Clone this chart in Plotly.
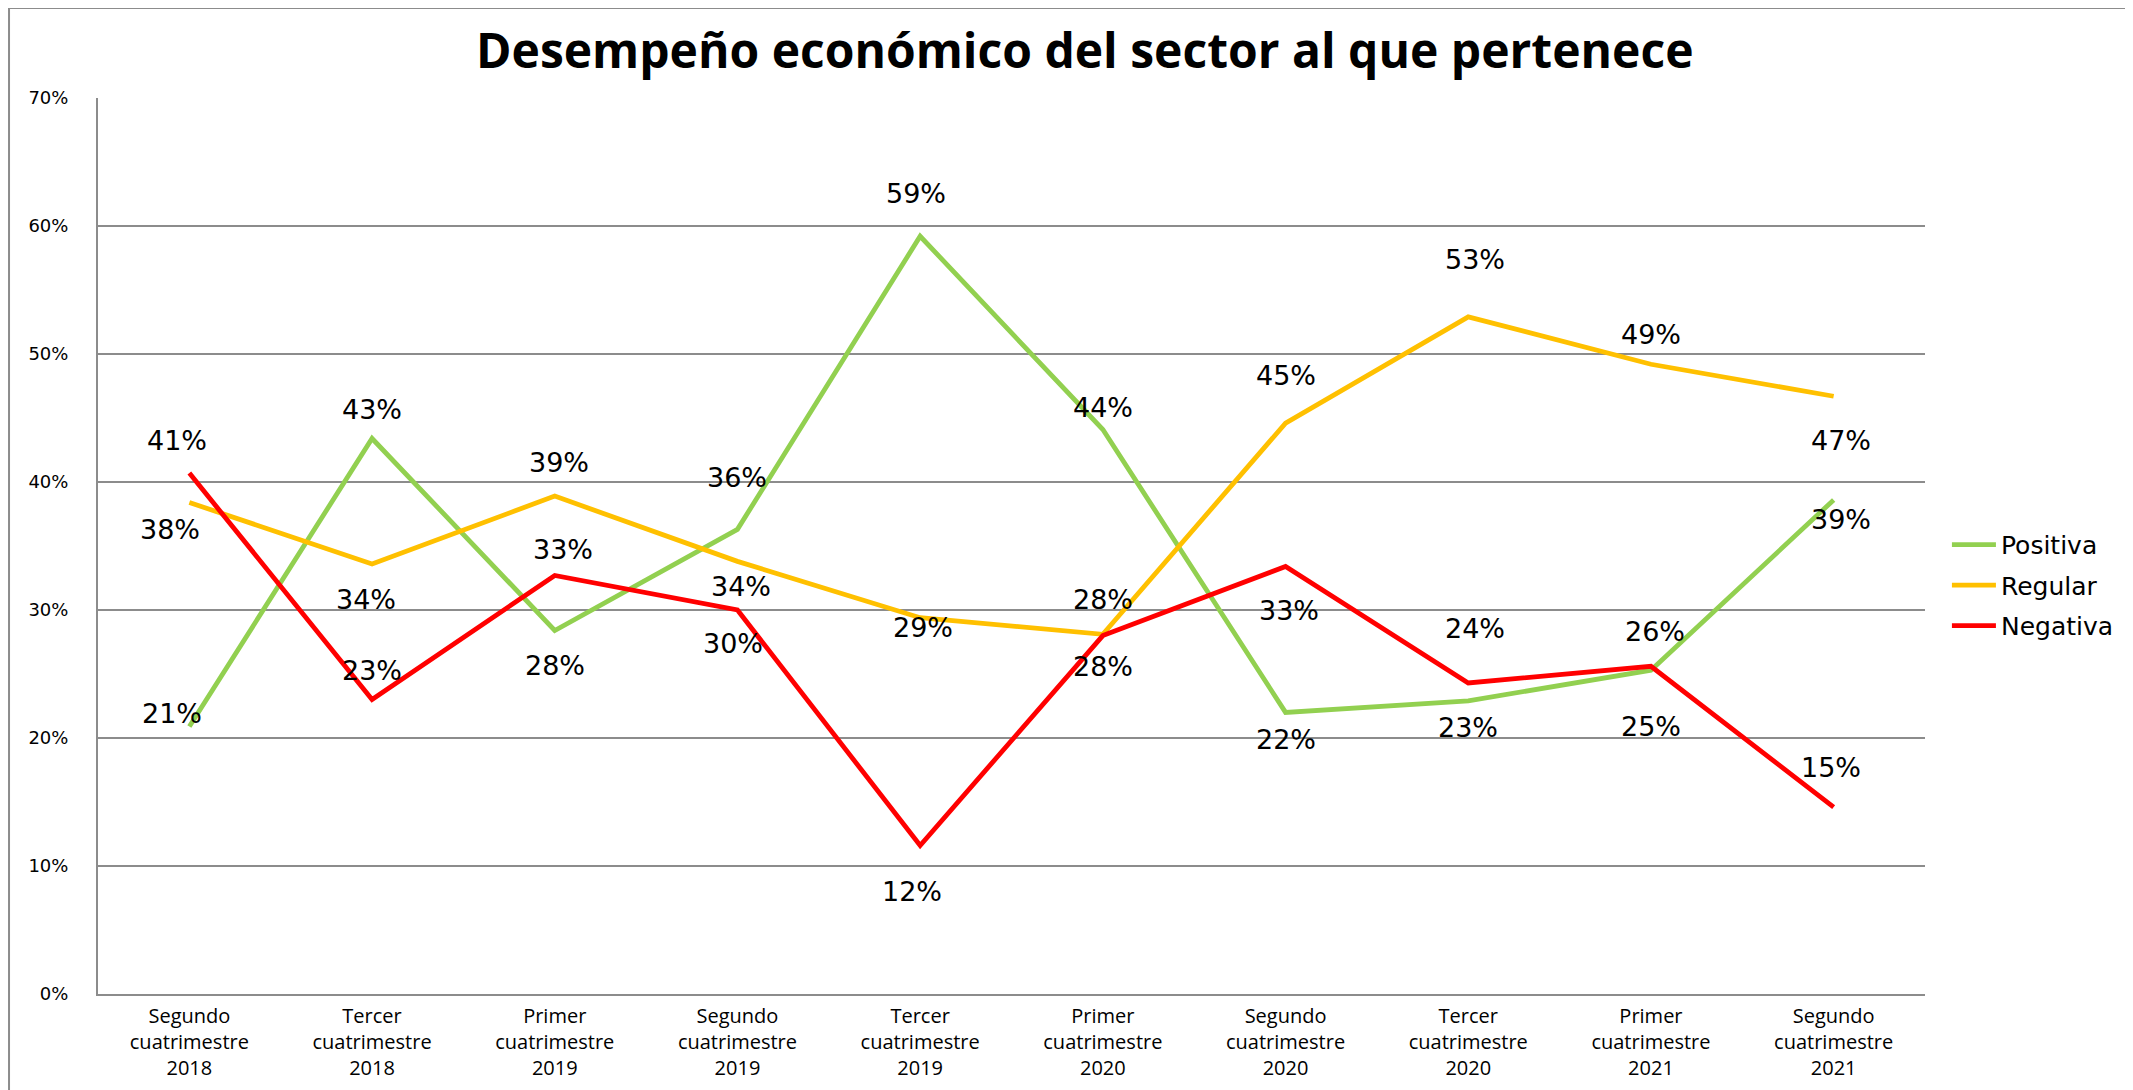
import plotly.graph_objects as go

categories = [
    "Segundo<br>cuatrimestre<br>2018", "Tercer<br>cuatrimestre<br>2018",
    "Primer<br>cuatrimestre<br>2019", "Segundo<br>cuatrimestre<br>2019",
    "Tercer<br>cuatrimestre<br>2019", "Primer<br>cuatrimestre<br>2020",
    "Segundo<br>cuatrimestre<br>2020", "Tercer<br>cuatrimestre<br>2020",
    "Primer<br>cuatrimestre<br>2021", "Segundo<br>cuatrimestre<br>2021",
]
positiva = [0.209, 0.434, 0.284, 0.363, 0.592, 0.441, 0.220, 0.229, 0.253, 0.386]
regular = [0.384, 0.336, 0.389, 0.338, 0.294, 0.281, 0.446, 0.529, 0.492, 0.467]
negativa = [0.407, 0.230, 0.327, 0.300, 0.116, 0.280, 0.334, 0.243, 0.256, 0.146]

# label offsets in pixels (style only)
pos_dx = [-17, 0, 0, 0, -4, 0, 0, 0, 0, 7]
pos_dy = [13, 29, -35, 52, 43, 22, -27, -27, -56, -20]
reg_dx = [-19, -6, 4, 4, 3, 0, 0, 7, 0, 7]
reg_dy = [-27, -36, 34, -25, -10, 35, 48, 57, 30, -44]
neg_dx = [-12, 0, 8, -4, -8, 0, 3, 7, 4, -3]
neg_dy = [33, 29, 26, -33, -46, -31, -44, 54, 35, 40]

series = [
    ("Positiva", positiva, "#92D050", pos_dx, pos_dy),
    ("Regular", regular, "#FFC000", reg_dx, reg_dy),
    ("Negativa", negativa, "#FF0000", neg_dx, neg_dy),
]

fig = go.Figure()
annotations = []
for i, (name, vals, color, dxs, dys) in enumerate(series):
    fig.add_trace(go.Scatter(
        x=categories, y=vals, mode="lines", name=name,
        line=dict(color=color, width=4.8), legendgroup=name,
    ))
    for c, v, dx, dy in zip(categories, vals, dxs, dys):
        annotations.append(dict(
            x=c, y=v, text=f"{round(v * 100)}%", showarrow=False,
            xshift=dx, yshift=dy, xref="x", yref="y",
            font=dict(family="DejaVu Sans", size=27, color="#000000"),
        ))

annotations.append(dict(
    text="<b>Desempeño económico del sector al que pertenece</b>",
    xref="paper", yref="paper", x=0.540, y=1.054, xanchor="center", yanchor="middle",
    showarrow=False, font=dict(family="Open Sans", size=48, color="#000000"),
))

fig.update_layout(
    width=2125, height=1082,
    margin=dict(l=90, r=208, t=90, b=96, autoexpand=False),
    paper_bgcolor="white", plot_bgcolor="white",
    showlegend=True,
    legend=dict(
        x=1.012, y=0.456, xanchor="left", yanchor="middle",
        font=dict(family="DejaVu Sans", size=25, color="#000000"),
        traceorder="grouped", tracegroupgap=5, itemwidth=44,
        bgcolor="rgba(0,0,0,0)",
    ),
    annotations=annotations,
    shapes=[dict(
        type="rect", xref="paper", yref="paper",
        x0=-0.0487, x1=1.3, y0=-0.3, y1=1.1004,
        line=dict(color="#8c8c8c", width=2), fillcolor="rgba(0,0,0,0)", layer="below",
    )],
)
fig.update_xaxes(
    type="category", range=[-0.5, 9.5], automargin=False,
    showline=True, linecolor="#8c8c8c", linewidth=2,
    showgrid=False, ticks="", ticklabelstandoff=3,
    tickfont=dict(family="Open Sans", size=20, color="#000000"),
)
fig.update_yaxes(
    range=[0, 0.7], dtick=0.1, tickformat=".0%", automargin=False,
    showline=True, linecolor="#8c8c8c", linewidth=2,
    showgrid=True, gridcolor="#8c8c8c", gridwidth=1.5,
    zeroline=False, ticks="", ticklabelstandoff=24,
    tickfont=dict(family="DejaVu Sans", size=18, color="#000000"),
)

fig.write_html("out.html")
